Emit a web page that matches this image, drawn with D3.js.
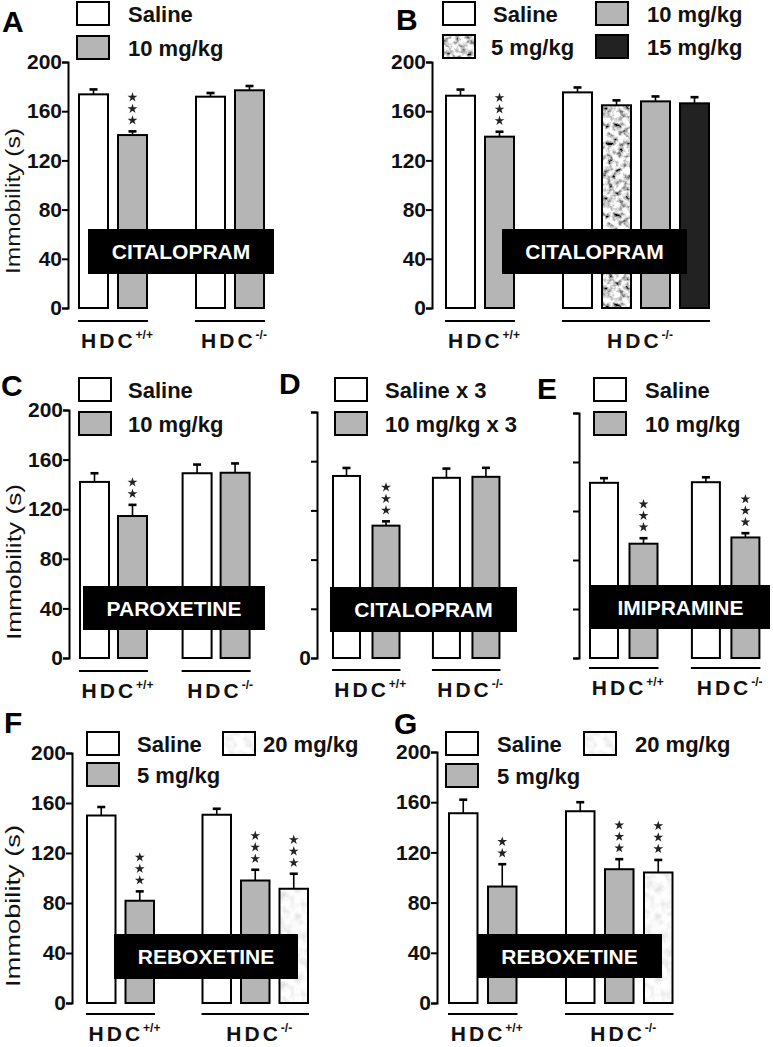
<!DOCTYPE html>
<html><head><meta charset="utf-8">
<script src="https://cdn.jsdelivr.net/npm/d3@7"></script>
<style>body{margin:0;background:#fff;} svg{display:block;font-family:"Liberation Sans",Arial,Helvetica,sans-serif;}</style>
</head><body><svg id="c" width="773" height="1047"></svg>
<script>
// ---------------- data ----------------
const yTicks = [0, 40, 80, 120, 160, 200];
const yTitle = "Immobility (s)";
const genoLabels = {"+/+": "+/+", "-/-": "-/-"};

const A_treat = ["Saline", "10 mg/kg", "Saline", "10 mg/kg"];
const A_geno  = ["+/+", "+/+", "-/-", "-/-"];
const A_mean  = [173.7, 140.6, 171.8, 177.0];
const A_sem   = [4.0, 3.0, 3.0, 3.5];
const A_stars = [0, 3, 0, 0];

const B_treat = ["Saline", "10 mg/kg", "Saline", "5 mg/kg", "10 mg/kg", "15 mg/kg"];
const B_geno  = ["+/+", "+/+", "-/-", "-/-", "-/-", "-/-"];
const B_mean  = [172.6, 139.3, 175.3, 164.8, 168.0, 166.4];
const B_sem   = [5.0, 4.0, 4.0, 4.0, 4.0, 5.0];
const B_stars = [0, 3, 0, 0, 0, 0];

const C_treat = ["Saline", "10 mg/kg", "Saline", "10 mg/kg"];
const C_geno  = ["+/+", "+/+", "-/-", "-/-"];
const C_mean  = [142.0, 114.5, 149.0, 149.4];
const C_sem   = [7.0, 9.0, 7.0, 7.5];
const C_stars = [0, 2, 0, 0];

const D_treat = ["Saline x 3", "10 mg/kg x 3", "Saline x 3", "10 mg/kg x 3"];
const D_geno  = ["+/+", "+/+", "-/-", "-/-"];
const D_mean  = [148.0, 107.6, 146.5, 147.3];
const D_sem   = [6.5, 3.5, 7.5, 7.3];
const D_stars = [0, 3, 0, 0];

const E_treat = ["Saline", "10 mg/kg", "Saline", "10 mg/kg"];
const E_geno  = ["+/+", "+/+", "-/-", "-/-"];
const E_mean  = [143.0, 93.3, 143.5, 98.4];
const E_sem   = [3.8, 4.5, 4.0, 3.5];
const E_stars = [0, 3, 0, 3];

const F_treat = ["Saline", "5 mg/kg", "Saline", "5 mg/kg", "20 mg/kg"];
const F_geno  = ["+/+", "+/+", "-/-", "-/-", "-/-"];
const F_mean  = [150.0, 81.8, 150.6, 98.0, 91.4];
const F_sem   = [6.8, 7.5, 4.8, 8.6, 12.0];
const F_stars = [0, 3, 0, 3, 3];

const G_treat = ["Saline", "5 mg/kg", "Saline", "5 mg/kg", "20 mg/kg"];
const G_geno  = ["+/+", "+/+", "-/-", "-/-", "-/-"];
const G_mean  = [151.2, 92.8, 152.8, 106.6, 104.0];
const G_sem   = [10.8, 17.8, 7.2, 8.0, 10.0];
const G_stars = [0, 2, 0, 3, 3];

// ---------------- styles / layout ----------------
const FILL = {white: "#ffffff", gray: "#b5b5b5", dark: "#222222", speck: "url(#pSpeck)", light: "url(#pLight)"};

const panels = [
  {letter: "A", lx: 2, ly: 32, treat: A_treat, geno: A_geno, mean: A_mean, sem: A_sem, stars: A_stars,
   fills: {"Saline": "white", "10 mg/kg": "gray"},
   axisX: 68, y0: 308, y200: 62, barLeft: 79, pitch: 39, gap: 1, barW: 29, lineY: 321,
   labels: "all", title: {x: 20, cy: 201, len: 146},
   legend: [{t: "Saline", x: 77, y: 2, tx: 128}, {t: "10 mg/kg", x: 77, y: 36, tx: 128}],
   drug: {t: "CITALOPRAM", x0: 88, x1: 274, y0: 229, y1: 274}},
  {letter: "B", lx: 396, ly: 30, treat: B_treat, geno: B_geno, mean: B_mean, sem: B_sem, stars: B_stars,
   fills: {"Saline": "white", "5 mg/kg": "speck", "10 mg/kg": "gray", "15 mg/kg": "dark"},
   axisX: 432, y0: 308, y200: 62, barLeft: 446, pitch: 39, gap: 1, barW: 29, lineY: 321,
   labels: "all", title: null,
   legend: [{t: "Saline", x: 443, y: 2, tx: 493}, {t: "10 mg/kg", x: 596, y: 2, tx: 647},
            {t: "5 mg/kg", x: 443, y: 35, tx: 491}, {t: "15 mg/kg", x: 596, y: 35, tx: 647}],
   drug: {t: "CITALOPRAM", x0: 502, x1: 687, y0: 229, y1: 274}},
  {letter: "C", lx: 1, ly: 396, treat: C_treat, geno: C_geno, mean: C_mean, sem: C_sem, stars: C_stars,
   fills: {"Saline": "white", "10 mg/kg": "gray"},
   axisX: 69, y0: 658, y200: 410, barLeft: 80, pitch: 38, gap: 0.7, barW: 29, lineY: 671,
   labels: "all", title: {x: 21, cy: 562, len: 156},
   legend: [{t: "Saline", x: 79, y: 378, tx: 128}, {t: "10 mg/kg", x: 79, y: 412, tx: 128}],
   drug: {t: "PAROXETINE", x0: 83, x1: 265, y0: 586, y1: 630}},
  {letter: "D", lx: 279, ly: 394, treat: D_treat, geno: D_geno, mean: D_mean, sem: D_sem, stars: D_stars,
   fills: {"Saline x 3": "white", "10 mg/kg x 3": "gray"},
   axisX: 317, y0: 658, y200: 412, barLeft: 333, pitch: 39.5, gap: 0.53, barW: 27, lineY: 670,
   labels: "zero", title: null,
   legend: [{t: "Saline x 3", x: 335, y: 378, tx: 385}, {t: "10 mg/kg x 3", x: 335, y: 412, tx: 385}],
   drug: {t: "CITALOPRAM", x0: 330, x1: 517, y0: 587, y1: 632}},
  {letter: "E", lx: 537, ly: 399, treat: E_treat, geno: E_geno, mean: E_mean, sem: E_sem, stars: E_stars,
   fills: {"Saline": "white", "10 mg/kg": "gray"},
   axisX: 579, y0: 658, y200: 413, barLeft: 590, pitch: 39.5, gap: 0.58, barW: 28, lineY: 668,
   labels: "none", title: null,
   legend: [{t: "Saline", x: 594, y: 378, tx: 645}, {t: "10 mg/kg", x: 594, y: 412, tx: 645}],
   drug: {t: "IMIPRAMINE", x0: 591, x1: 770, y0: 585, y1: 629}},
  {letter: "F", lx: 4, ly: 733, treat: F_treat, geno: F_geno, mean: F_mean, sem: F_sem, stars: F_stars,
   fills: {"Saline": "white", "5 mg/kg": "gray", "20 mg/kg": "light"},
   axisX: 72, y0: 1003, y200: 753, barLeft: 87, pitch: 38.5, gap: 1, barW: 28.5, lineY: 1014,
   labels: "all", title: {x: 20, cy: 906, len: 162},
   legend: [{t: "Saline", x: 87, y: 732, tx: 137}, {t: "5 mg/kg", x: 87, y: 763, tx: 137},
            {t: "20 mg/kg", x: 223, y: 732, tx: 263}],
   drug: {t: "REBOXETINE", x0: 114, x1: 298, y0: 934, y1: 979}},
  {letter: "G", lx: 394, ly: 734, treat: G_treat, geno: G_geno, mean: G_mean, sem: G_sem, stars: G_stars,
   fills: {"Saline": "white", "5 mg/kg": "gray", "20 mg/kg": "light"},
   axisX: 437, y0: 1003, y200: 752, barLeft: 449, pitch: 39, gap: 1, barW: 28.5, lineY: 1014,
   labels: "all", title: null,
   legend: [{t: "Saline", x: 446, y: 732, tx: 497}, {t: "5 mg/kg", x: 446, y: 764, tx: 497},
            {t: "20 mg/kg", x: 584, y: 732, tx: 635}],
   drug: {t: "REBOXETINE", x0: 477, x1: 662, y0: 934, y1: 978}}
];

// ---------------- drawing ----------------
const svg = d3.select("#c");
const defs = svg.append("defs");
function speckle(id, k, off, freq, oct) {
  const f = defs.append("filter").attr("id", "f" + id).attr("x", 0).attr("y", 0).attr("width", "100%").attr("height", "100%");
  f.append("feTurbulence").attr("type", "fractalNoise").attr("baseFrequency", freq).attr("numOctaves", oct)
    .attr("seed", 7).attr("stitchTiles", "stitch");
  f.append("feColorMatrix").attr("type", "matrix")
    .attr("values", `${k} 0 0 0 ${off}  ${k} 0 0 0 ${off}  ${k} 0 0 0 ${off}  0 0 0 0 1`);
  const p = defs.append("pattern").attr("id", "p" + id).attr("patternUnits", "userSpaceOnUse")
    .attr("width", 90).attr("height", 90);
  p.append("rect").attr("width", 90).attr("height", 90).attr("filter", `url(#f${id})`);
}
speckle("Speck", 2.6, -0.6, 0.18, 3);
speckle("Light", 0.55, 0.66, 0.12, 2);

const star = d3.symbol(d3.symbolStar, 30);

panels.forEach(p => {
  const g = svg.append("g");
  const y = d3.scaleLinear().domain([0, 200]).range([p.y0, p.y200]);
  const x = d3.scaleLinear().domain([0, 1]).range([p.barLeft, p.barLeft + p.pitch]);
  const genos = [...new Set(p.geno)];
  const data = p.mean.map((m, i) => {
    const gi = genos.indexOf(p.geno[i]);
    return {m, s: p.sem[i], st: p.stars[i], t: p.treat[i], g: p.geno[i], slot: i + gi * p.gap};
  });

  // axis
  const axis = d3.axisLeft(y).tickValues(yTicks).tickSize(6).tickSizeOuter(6).tickPadding(0)
    .tickFormat(d => p.labels === "all" ? d : (p.labels === "zero" && d === 0 ? d : ""));
  const ag = g.append("g").attr("transform", `translate(${p.axisX},0)`).call(axis);
  ag.select(".domain").attr("stroke", "#000").attr("stroke-width", 2);
  ag.selectAll(".tick line").attr("stroke", "#000").attr("stroke-width", 2);
  ag.selectAll(".tick text").attr("font-size", 21).attr("font-weight", "bold").attr("fill", "#111")
    .attr("font-family", "Liberation Sans, Arial, sans-serif");

  if (p.title) {
    g.append("text").attr("transform", `translate(${p.title.x},${p.title.cy}) rotate(-90)`)
      .attr("text-anchor", "middle").attr("font-size", 20).attr("fill", "#111")
      .attr("textLength", p.title.len).attr("lengthAdjust", "spacingAndGlyphs").text(yTitle);
  }

  // bars
  g.selectAll("rect.bar").data(data).join("rect").attr("class", "bar")
    .attr("x", d => x(d.slot)).attr("y", d => y(d.m))
    .attr("width", p.barW).attr("height", d => y(0) - y(d.m))
    .attr("fill", d => FILL[p.fills[d.t]]).attr("stroke", "#000").attr("stroke-width", 2);

  // error bars
  const cx = d => x(d.slot) + p.barW / 2;
  g.selectAll("line.err").data(data).join("line").attr("class", "err")
    .attr("x1", cx).attr("x2", cx).attr("y1", d => y(d.m)).attr("y2", d => y(d.m + d.s))
    .attr("stroke", "#000").attr("stroke-width", 1.6);
  g.selectAll("line.cap").data(data).join("line").attr("class", "cap")
    .attr("x1", d => cx(d) - 4).attr("x2", d => cx(d) + 4)
    .attr("y1", d => y(d.m + d.s)).attr("y2", d => y(d.m + d.s))
    .attr("stroke", "#000").attr("stroke-width", 2.6);

  // significance stars
  data.forEach(d => {
    for (let k = 0; k < d.st; k++) {
      g.append("path").attr("d", star)
        .attr("transform", `translate(${cx(d)},${y(d.m + d.s) - 11 - k * 11.5})`)
        .attr("fill", "#222");
    }
  });

  // genotype group lines & labels
  genos.forEach(gn => {
    const ds = data.filter(d => d.g === gn);
    const x0 = d3.min(ds, d => x(d.slot)) - 1;
    const x1 = d3.max(ds, d => x(d.slot)) + p.barW + 1;
    g.append("line").attr("x1", x0).attr("x2", x1).attr("y1", p.lineY).attr("y2", p.lineY)
      .attr("stroke", "#000").attr("stroke-width", 2);
    const t = g.append("text").attr("x", (x0 + x1) / 2 + 4).attr("y", p.lineY + 27)
      .attr("text-anchor", "middle").attr("font-size", 21).attr("font-weight", "bold").attr("fill", "#111");
    t.append("tspan").attr("letter-spacing", 3).text("HDC");
    t.append("tspan").attr("font-size", 12).attr("dy", -9).text(genoLabels[gn]);
  });

  // drug label box
  g.append("rect").attr("x", p.drug.x0).attr("y", p.drug.y0)
    .attr("width", p.drug.x1 - p.drug.x0).attr("height", p.drug.y1 - p.drug.y0).attr("fill", "#000");
  g.append("text").attr("x", (p.drug.x0 + p.drug.x1) / 2).attr("y", (p.drug.y0 + p.drug.y1) / 2)
    .attr("dy", "0.36em").attr("text-anchor", "middle").attr("font-size", 21).attr("font-weight", "bold")
    .attr("fill", "#fff").text(p.drug.t);

  // legend
  p.legend.forEach(l => {
    g.append("rect").attr("x", l.x).attr("y", l.y).attr("width", 32).attr("height", 23)
      .attr("fill", FILL[p.fills[l.t]]).attr("stroke", "#000").attr("stroke-width", 2);
    g.append("text").attr("x", l.tx).attr("y", l.y + 12).attr("dy", "0.36em")
      .attr("font-size", 22).attr("font-weight", "bold").attr("fill", "#111").text(l.t);
  });

  // panel letter
  g.append("text").attr("x", p.lx).attr("y", p.ly).attr("font-size", 30).attr("font-weight", "bold")
    .attr("fill", "#000").text(p.letter);
});
</script></body></html>
